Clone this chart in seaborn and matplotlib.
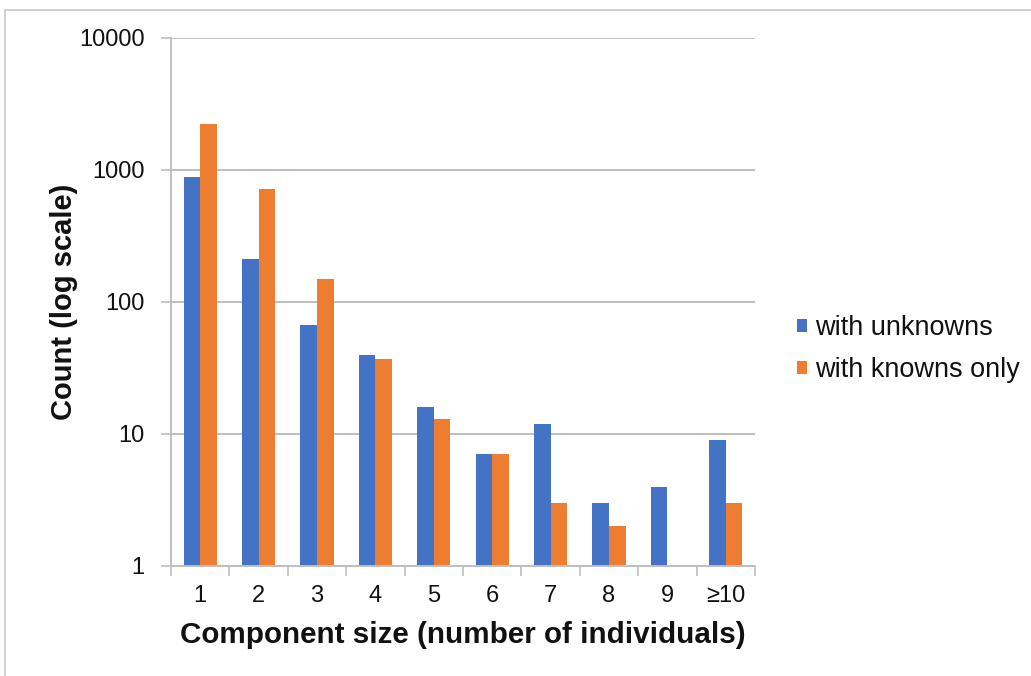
import matplotlib
matplotlib.use("Agg")
import matplotlib.pyplot as plt
from matplotlib.patches import Rectangle
from matplotlib.ticker import FixedLocator, FixedFormatter, NullLocator
import numpy as np
import pandas as pd
import seaborn as sns

# Component-size categories and counts per series
sizes = ["1", "2", "3", "4", "5", "6", "7", "8", "9", "\u226510"]
with_unknowns = [880, 212, 67, 40, 16, 7, 12, 3, 4, 9]
knowns_only = [2220, 720, 150, 37, 13, 7, 3, 2, np.nan, 3]
series_names = ["with unknowns", "with knowns only"]
y_ticks = [1, 10, 100, 1000, 10000]
y_tick_labels = ["1", "10", "100", "1000", "10000"]

df = pd.DataFrame({
    "size": sizes * 2,
    "series": [series_names[0]] * len(sizes) + [series_names[1]] * len(sizes),
    "count": with_unknowns + knowns_only,
})

sns.set_theme(style="white")
plt.rcParams["font.family"] = ["Liberation Sans", "DejaVu Sans"]

GRID = "#bfbfbf"
TEXT = "#111111"
palette = {series_names[0]: "#4472C4", series_names[1]: "#ED7D31"}

fig = plt.figure(figsize=(10.31, 6.76), dpi=100)
ax = fig.add_axes([171 / 1031, 110 / 676, 584 / 1031, 528 / 676])

sns.barplot(data=df, x="size", y="count", hue="series", order=sizes,
            hue_order=series_names, palette=palette, width=0.57,
            saturation=1, linewidth=0, ax=ax, legend=True)

ax.set_yscale("log")
ax.set_ylim(1, 10000)
ax.set_xlim(-0.5, len(sizes) - 0.5)

# y axis: decades with gridlines
ax.yaxis.set_major_locator(FixedLocator(y_ticks))
ax.yaxis.set_major_formatter(FixedFormatter(y_tick_labels))
ax.yaxis.set_minor_locator(NullLocator())
ax.grid(axis="y", which="major", color=GRID, linewidth=1.4)
ax.set_axisbelow(True)

# x axis: labels centred, tick marks between categories
ax.set_xticks(range(len(sizes)))
ax.set_xticklabels(sizes)
ax.set_xticks(np.arange(-0.5, len(sizes), 1.0), minor=True)
ax.tick_params(axis="x", which="major", length=0, pad=14, labelsize=17, labelcolor=TEXT)
ax.tick_params(axis="x", which="minor", length=7, width=1.2, color=GRID, direction="out", bottom=True)
ax.tick_params(axis="y", which="major", length=7, width=1.2, color=GRID, direction="out",
               left=True, pad=12, labelsize=17, labelcolor=TEXT)

for side in ["top", "right"]:
    ax.spines[side].set_visible(False)
for side in ["left", "bottom"]:
    ax.spines[side].set_color(GRID)
    ax.spines[side].set_linewidth(1.4)

ax.set_xlabel("Component size (number of individuals)", fontsize=21.3, fontweight="bold",
              color=TEXT, labelpad=10)
ax.set_ylabel("Count (log scale)", fontsize=21, fontweight="bold", color=TEXT, labelpad=1)

handles, labels = ax.get_legend_handles_labels()
ax.legend(handles, labels, loc="center left", bbox_to_anchor=(773 / 1031, 1 - 349 / 676),
          bbox_transform=fig.transFigure, frameon=False, fontsize=19.5,
          handlelength=0.37, handleheight=0.37, handletextpad=0.3, labelspacing=0.6,
          labelcolor=TEXT)

# thin outer frame around the chart area
fig.patches.append(Rectangle((5 / 1031, -0.05), 1.1, 1 - 10 / 676 + 0.05,
                             transform=fig.transFigure, fill=False,
                             edgecolor="#c8c8c8", linewidth=1.2))

fig.savefig("out.png", dpi=100)
